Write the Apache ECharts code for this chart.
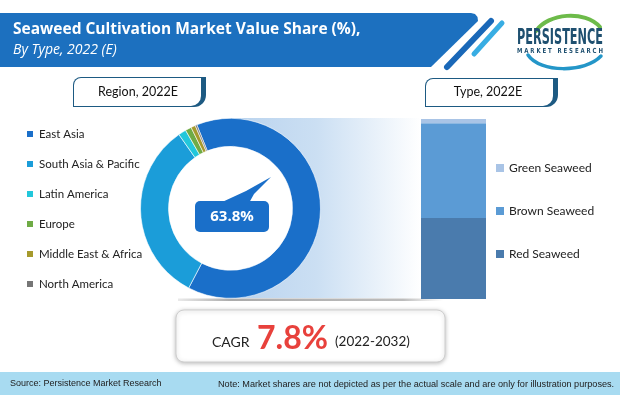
<!DOCTYPE html>
<html>
<head>
<meta charset="utf-8">
<script src="https://cdn.jsdelivr.net/npm/echarts@6/dist/echarts.min.js"></script>
<style>
html,body{margin:0;padding:0;background:#fff;}
#chart{width:620px;height:395px;}
</style>
</head>
<body>
<div id="chart"></div>
<script>
// ---- data ----
const titleText = 'Seaweed Cultivation Market Value Share (%),';
const subtitleText = 'By Type, 2022 (E)';
const regionBoxLabel = 'Region, 2022E';
const typeBoxLabel = 'Type, 2022E';
const regionNames = ['East Asia', 'South Asia & Pacific', 'Latin America', 'Europe', 'Middle East & Africa', 'North America'];
const regionValues = [63.8, 32.6, 1.4, 1.1, 0.8, 0.3];
const typeNames = ['Red Seaweed', 'Brown Seaweed', 'Green Seaweed'];
const typeValues = [45.0, 52.6, 2.4];
const typeLegendOrder = ['Green Seaweed', 'Brown Seaweed', 'Red Seaweed'];
const cagrLabel = 'CAGR';
const cagrValue = '7.8%';
const cagrPeriod = '(2022-2032)';
const sourceText = 'Source: Persistence Market Research';
const noteText = 'Note: Market shares are not depicted as per the actual scale and are only for illustration purposes.';
const logoMain = 'PERSISTENCE';
const logoSub = 'MARKET RESEARCH';

const regionColors = ['#1a6fc9', '#1b9dd9', '#22c7db', '#6fab45', '#a69a2c', '#767676'];
const typeColors = ['#4a7bad', '#5b9bd5', '#a9c4e6'];

function measure(text, font) {
  const c = document.createElement('canvas').getContext('2d');
  c.font = font;
  return c.measureText(text).width;
}

const chart = echarts.init(document.getElementById('chart'), null, {renderer: 'canvas'});

const logoMainFont = 'bold 21px "DejaVu Sans Condensed", "Liberation Sans Narrow", sans-serif';
const logoSubFont = 'bold 7px "DejaVu Sans", sans-serif';
const logoSubSpaced = logoSub.split('').join(' ');
const logoMainScale = 86 / measure(logoMain, logoMainFont);
const logoSubScale = 86 / measure(logoSubSpaced, logoSubFont);

const graphics = [
  // header band
  {type: 'polygon', shape: {points: [[0, 13], [471, 13], [475, 14], [477.5, 17], [478, 21], [431, 67], [0, 67]]}, style: {fill: '#1c70bf'}, z: 0},
  {type: 'line', shape: {x1: 491, y1: 21, x2: 447, y2: 67}, style: {stroke: '#1a68b8', lineWidth: 6, lineCap: 'round'}, z: 0},
  {type: 'line', shape: {x1: 502, y1: 23, x2: 474, y2: 54}, style: {stroke: '#38ade3', lineWidth: 5, lineCap: 'round'}, z: 0},
  {type: 'text', x: 13, y: 30, style: {text: titleText, fill: '#fff', font: 'bold 15.5px "Open Sans", sans-serif', textVerticalAlign: 'middle'}, z: 1},
  {type: 'text', x: 13, y: 50, style: {text: subtitleText, fill: '#fff', font: 'italic 14px "Open Sans", sans-serif', textVerticalAlign: 'middle'}, z: 1},
  // logo
  {type: 'bezierCurve', shape: {x1: 536, y1: 31, cpx1: 548, cpy1: 13, cpx2: 585, cpy2: 10, x2: 600, y2: 27},
    style: {stroke: '#6dbb4a', lineWidth: 4, lineCap: 'round', fill: 'none'}, z: 1},
  {type: 'bezierCurve', shape: {x1: 528, y1: 55, cpx1: 540, cpy1: 73, cpx2: 585, cpy2: 73, x2: 601, y2: 56},
    style: {stroke: '#2496c8', lineWidth: 3.5, lineCap: 'round', fill: 'none'}, z: 1},
  {type: 'text', x: 517, y: 39, scaleX: logoMainScale, style: {text: logoMain, fill: '#1f5070', font: logoMainFont, textVerticalAlign: 'middle'}, z: 2},
  {type: 'text', x: 517, y: 51, scaleX: logoSubScale, style: {text: logoSubSpaced, fill: '#1f5070', font: logoSubFont, textVerticalAlign: 'middle'}, z: 2},
  // region box
  {type: 'rect', shape: {x: 73, y: 77, width: 133, height: 30, r: [8, 0, 12, 0]}, style: {fill: '#1d5a82'}, z: 1},
  {type: 'rect', shape: {x: 74, y: 78, width: 127, height: 28, r: [7, 0, 10, 0]}, style: {fill: '#fff'}, z: 1},
  {type: 'text', x: 138, y: 92, style: {text: regionBoxLabel, fill: '#111', font: '12.5px Lato, sans-serif', textAlign: 'center', textVerticalAlign: 'middle'}, z: 2},
  // type box
  {type: 'rect', shape: {x: 425, y: 78, width: 133, height: 29, r: [8, 0, 12, 0]}, style: {fill: '#1d5a82'}, z: 1},
  {type: 'rect', shape: {x: 426, y: 79, width: 127, height: 27, r: [7, 0, 10, 0]}, style: {fill: '#fff'}, z: 1},
  {type: 'text', x: 488, y: 92, style: {text: typeBoxLabel, fill: '#111', font: '12.5px Lato, sans-serif', textAlign: 'center', textVerticalAlign: 'middle'}, z: 2},
  // gradient band behind donut
  {type: 'rect', shape: {x: 231, y: 118, width: 190, height: 180},
    style: {fill: new echarts.graphic.LinearGradient(0, 0, 1, 0, [{offset: 0, color: '#b9d3ee'}, {offset: 0.45, color: '#cbdff3'}, {offset: 1, color: '#ffffff'}])}, z: 0},
  {type: 'rect', shape: {x: 178, y: 298.5, width: 265, height: 2.5},
    style: {fill: new echarts.graphic.LinearGradient(0, 0, 1, 0, [{offset: 0, color: 'rgba(150,150,150,0.2)'}, {offset: 0.2, color: 'rgba(150,150,150,0.8)'}, {offset: 0.85, color: 'rgba(160,160,160,0.7)'}, {offset: 1, color: 'rgba(180,180,180,0)'}])}, z: 0},
  {type: 'circle', shape: {cx: 230.5, cy: 208.3, r: 63}, style: {fill: '#fff'}, z: 0},
  // callout
  {type: 'polygon', shape: {points: [[220, 203], [246, 191], [271, 177], [254, 194], [249, 203]]}, style: {fill: '#1a6fc9'}, z: 3},
  {type: 'rect', shape: {x: 195, y: 201, width: 74, height: 31, r: 5}, style: {fill: '#1a6fc9'}, z: 3},
  {type: 'text', x: 232, y: 217, style: {text: regionValues[0].toFixed(1) + '%', fill: '#fff', font: 'bold 15px "Open Sans", sans-serif', textAlign: 'center', textVerticalAlign: 'middle'}, z: 4},
  // CAGR box
  {type: 'rect', shape: {x: 176, y: 310, width: 269, height: 52, r: 8}, style: {fill: '#fff', stroke: '#cfcfcf', lineWidth: 1, shadowBlur: 4, shadowColor: 'rgba(0,0,0,0.25)', shadowOffsetY: 1}, z: 1},
  {type: 'text', x: 212, y: 342, style: {text: cagrLabel, fill: '#222', font: '14px Lato, sans-serif', textVerticalAlign: 'middle'}, z: 2},
  {type: 'text', x: 257, y: 339, style: {text: cagrValue, fill: '#e8413c', font: 'bold 32px Lato, sans-serif', textVerticalAlign: 'middle'}, z: 2},
  {type: 'text', x: 335, y: 342, style: {text: cagrPeriod, fill: '#222', font: '13.5px Lato, sans-serif', textVerticalAlign: 'middle'}, z: 2},
  // footer
  {type: 'rect', shape: {x: 0, y: 372, width: 620, height: 23}, style: {fill: '#a8dbf1'}, z: 0},
  {type: 'text', x: 10, y: 384, style: {text: sourceText, fill: '#222', font: '9px "Liberation Sans", Arial, sans-serif', textVerticalAlign: 'middle'}, z: 1},
  {type: 'text', x: 218, y: 384, style: {text: noteText, fill: '#222', font: '9.15px "Liberation Sans", Arial, sans-serif', textVerticalAlign: 'middle'}, z: 1}
];

const option = {
  animation: false,
  backgroundColor: '#fff',
  graphic: {elements: graphics},
  legend: [
    {
      data: regionNames,
      orient: 'vertical', left: 20, top: 122,
      icon: 'rect', itemWidth: 8, itemHeight: 8, itemGap: 16,
      selectedMode: false,
      textStyle: {fontFamily: 'Lato, sans-serif', fontSize: 11.5, color: '#222', lineHeight: 14}
    },
    {
      data: typeLegendOrder,
      orient: 'vertical', left: 491, top: 156,
      icon: 'rect', itemWidth: 8, itemHeight: 8, itemGap: 29,
      selectedMode: false,
      textStyle: {fontFamily: 'Lato, sans-serif', fontSize: 12, color: '#222', lineHeight: 14}
    }
  ],
  grid: {left: 421, top: 119, width: 65, height: 180},
  xAxis: {type: 'category', data: ['2022E'], show: false},
  yAxis: {type: 'value', min: 0, max: 100, show: false},
  series: [
    {
      type: 'pie',
      center: [230.5, 208.3],
      radius: [62, 90],
      startAngle: 112,
      clockwise: true,
      silent: true,
      label: {show: false},
      labelLine: {show: false},
      itemStyle: {borderColor: '#fff', borderWidth: 0.6},
      data: regionNames.map((n, i) => ({name: n, value: regionValues[i], itemStyle: {color: regionColors[i]}}))
    }
  ].concat(typeNames.map((n, i) => ({
    type: 'bar',
    name: n,
    stack: 'type',
    barWidth: '100%',
    silent: true,
    itemStyle: {color: typeColors[i]},
    data: [typeValues[i]]
  })))
};

chart.setOption(option);
</script>
</body>
</html>
